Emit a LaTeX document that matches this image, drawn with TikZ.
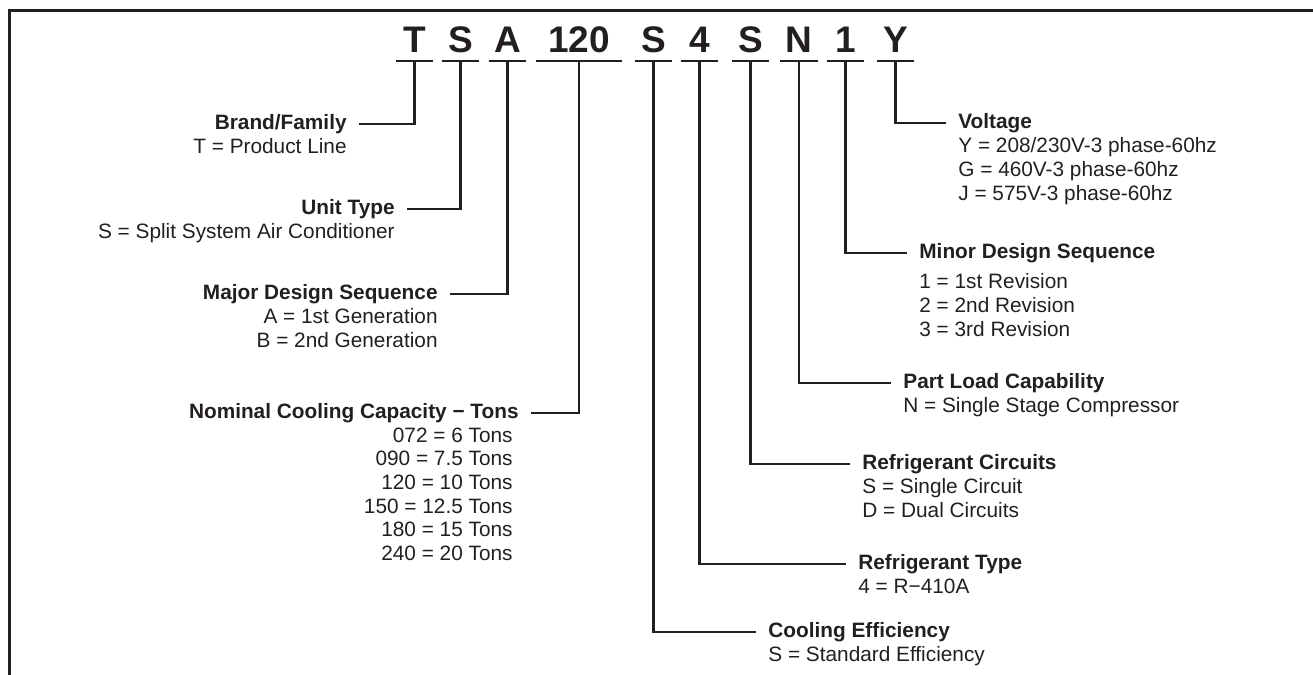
\documentclass[tikz,border=0pt]{standalone}
\usepackage{fontspec}
\setmainfont{Liberation Sans}
\usepackage{xcolor}
\usetikzlibrary{positioning, calc}
\definecolor{ink}{HTML}{231F20}

\begin{document}
\begin{tikzpicture}[
        x=0.5pt, y=-0.5pt,
        every node/.style={text=ink},
        code/.style={font=\fontsize{18.5}{20}\selectfont\bfseries, inner xsep=0pt, inner ysep=4pt, text depth=0pt, minimum width=18.5pt, anchor=south},
        uline/.style={draw=ink, line width=1.25pt},
        link/.style={draw=ink, line width=1.25pt},
        frame/.style={draw=ink, line width=1.5pt},
        title/.style={font=\fontsize{10.4}{11.8}\selectfont\bfseries, inner xsep=6pt, inner ysep=0pt, text height=7.5pt, text depth=2.5pt},
        info/.style={font=\fontsize{10.4}{11.8}\selectfont, inner xsep=6pt, inner ysep=0pt}
    ]
    \useasboundingbox (0,0) rectangle (1313,675);
    \draw[frame] (9,675) -- (9,10) -- (1313,10);

    % Model number
    \node[code] (cT) at (414.5,61) {T};
    \node[code] (cS1) at (460.5,61) {S};
    \node[code] (cA) at (507.5,61) {A};
    \node[code, minimum width=43pt] (cCap) at (579,61) {120};
    \node[code] (cS2) at (653.5,61) {S};
    \node[code] (c4) at (699.5,61) {4};
    \node[code] (cS3) at (750.5,61) {S};
    \node[code] (cN) at (799,61) {N};
    \node[code] (c1) at (845.5,61) {1};
    \node[code] (cY) at (895.5,61) {Y};
    \foreach \c in {cT, cS1, cA, cCap, cS2, c4, cS3, cN, c1, cY}
        \draw[uline] (\c.south west) -- (\c.south east);

    % Left side
    \node[title, anchor=east] (tBrand) at (359,124) {Brand/Family};
    \node[info, align=right, below=2pt of tBrand.south east, anchor=north east] (iBrand) {T = Product Line};
    \node[title, anchor=east] (tUnit) at (407,209) {Unit Type};
    \node[info, align=right, below=2pt of tUnit.south east, anchor=north east] (iUnit) {S = Split System Air Conditioner};
    \node[title, anchor=east] (tMajor) at (450,294) {Major Design Sequence};
    \node[info, align=right, below=2pt of tMajor.south east, anchor=north east] (iMajor) {A = 1st Generation\\B = 2nd Generation};
    \node[title, anchor=east] (tCap) at (531,413) {Nominal Cooling Capacity − Tons};
    \node[info, align=right, below=2pt of tCap.south east, anchor=north east, xshift=-3pt] (iCap) {072 = 6 Tons\\090 = 7.5 Tons\\120 = 10 Tons\\150 = 12.5 Tons\\180 = 15 Tons\\240 = 20 Tons};

    % Right side
    \node[title, anchor=west] (tVolt) at (946,123) {Voltage};
    \node[info, align=left, below=2pt of tVolt.south west, anchor=north west] (iVolt) {Y = 208/230V-3 phase-60hz\\G = 460V-3 phase-60hz\\J = 575V-3 phase-60hz};
    \node[title, anchor=west] (tMinor) at (907,253) {Minor Design Sequence};
    \node[info, align=left, below=5pt of tMinor.south west, anchor=north west] (iMinor) {1 = 1st Revision\\2 = 2nd Revision\\3 = 3rd Revision};
    \node[title, anchor=west] (tLoad) at (891,383) {Part Load Capability};
    \node[info, align=left, below=2pt of tLoad.south west, anchor=north west] (iLoad) {N = Single Stage Compressor};
    \node[title, anchor=west] (tCirc) at (850,464) {Refrigerant Circuits};
    \node[info, align=left, below=2pt of tCirc.south west, anchor=north west] (iCirc) {S = Single Circuit\\D = Dual Circuits};
    \node[title, anchor=west] (tRef) at (846,564) {Refrigerant Type};
    \node[info, align=left, below=2pt of tRef.south west, anchor=north west] (iRef) {4 = R−410A};
    \node[title, anchor=west] (tEff) at (756,632) {Cooling Efficiency};
    \node[info, align=left, below=2pt of tEff.south west, anchor=north west] (iEff) {S = Standard Efficiency};

    % Leaders
    \draw[link] (cT.south) |- (tBrand.east);
    \draw[link] (cS1.south) |- (tUnit.east);
    \draw[link] (cA.south) |- (tMajor.east);
    \draw[link] (cCap.south) |- (tCap.east);
    \draw[link] (cS2.south) |- (tEff.west);
    \draw[link] (c4.south) |- (tRef.west);
    \draw[link] (cS3.south) |- (tCirc.west);
    \draw[link] (cN.south) |- (tLoad.west);
    \draw[link] (c1.south) |- (tMinor.west);
    \draw[link] (cY.south) |- (tVolt.west);
\end{tikzpicture}
\end{document}
